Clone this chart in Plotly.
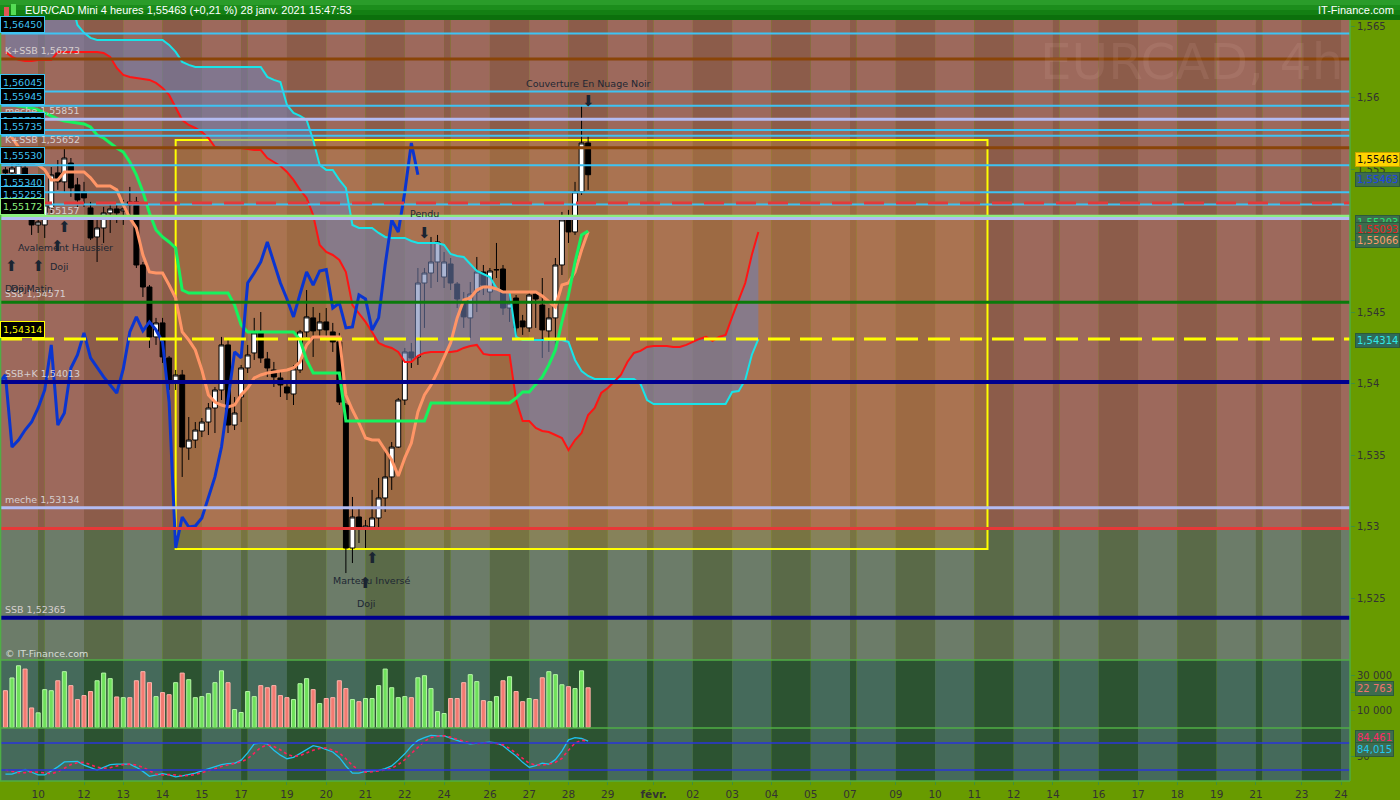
import plotly.graph_objects as go

# EUR/CAD Mini, 4h candles. Bar 0 = first visible candle (8 janv. 2021).
OPEN = [1.55497, 1.55476, 1.55462, 1.55510, 1.55161, 1.55112, 1.55112, 1.55231, 1.55476, 1.55413,
        1.55545, 1.55392, 1.55343, 1.55231, 1.55028, 1.55091, 1.55196, 1.55224, 1.55210, 1.55273,
        1.55273, 1.54832, 1.54678, 1.54329, 1.54427, 1.54182, 1.54007, 1.54063, 1.53552, 1.53608,
        1.53671, 1.53734, 1.53832, 1.53958, 1.54273, 1.53713, 1.53909, 1.54112, 1.54217, 1.54357,
        1.54175, 1.54098, 1.54042, 1.53979, 1.53930, 1.54098, 1.54364, 1.54462, 1.54378, 1.54434,
        1.54364, 1.54294, 1.53853, 1.52853, 1.53070, 1.52993, 1.53000, 1.53063, 1.53203, 1.53350,
        1.53559, 1.53888, 1.54224, 1.54189, 1.54706, 1.54776, 1.54853, 1.54748, 1.54839, 1.54699,
        1.54573, 1.54462, 1.54643, 1.54783, 1.54643, 1.54797, 1.54804, 1.54531, 1.54601, 1.54441,
        1.54392, 1.54629, 1.54552, 1.54371, 1.54462, 1.54832, 1.55161, 1.55063, 1.55343, 1.55685]
HIGH = [1.55517, 1.55552, 1.55552, 1.55531, 1.55196, 1.55168, 1.55266, 1.55517, 1.55566, 1.55657,
        1.55580, 1.55441, 1.55413, 1.55273, 1.55147, 1.55238, 1.55266, 1.55252, 1.55287, 1.55378,
        1.55308, 1.54853, 1.54692, 1.54462, 1.54462, 1.54196, 1.54098, 1.54098, 1.53769, 1.53734,
        1.53762, 1.53867, 1.53979, 1.54329, 1.54308, 1.53909, 1.54133, 1.54273, 1.54462, 1.54503,
        1.54224, 1.54154, 1.54084, 1.54028, 1.54133, 1.54378, 1.54657, 1.54538, 1.54497, 1.54531,
        1.54427, 1.54357, 1.53867, 1.53210, 1.53140, 1.53049, 1.53259, 1.53343, 1.53538, 1.53594,
        1.53902, 1.54252, 1.54287, 1.54811, 1.54811, 1.55028, 1.55042, 1.54923, 1.54881, 1.54713,
        1.54643, 1.54713, 1.54888, 1.54832, 1.54811, 1.54986, 1.54832, 1.54643, 1.54622, 1.54483,
        1.54643, 1.54643, 1.54741, 1.54531, 1.54881, 1.55203, 1.55217, 1.55413, 1.55951, 1.55741]
LOW = [1.55462, 1.55462, 1.55427, 1.55161, 1.55042, 1.55056, 1.55021, 1.55196, 1.55357, 1.55336,
       1.55308, 1.55238, 1.55238, 1.55007, 1.54853, 1.54986, 1.55056, 1.55126, 1.55112, 1.55168,
       1.54811, 1.54608, 1.54252, 1.54273, 1.54147, 1.53958, 1.53958, 1.53350, 1.53469, 1.53552,
       1.53629, 1.53643, 1.53657, 1.53888, 1.53657, 1.53678, 1.53734, 1.54077, 1.54168, 1.54147,
       1.54049, 1.53979, 1.53909, 1.53888, 1.53853, 1.54077, 1.54329, 1.54189, 1.54329, 1.54308,
       1.54224, 1.53853, 1.52678, 1.52748, 1.52888, 1.52853, 1.52979, 1.52993, 1.53105, 1.53259,
       1.53552, 1.53853, 1.54112, 1.54133, 1.54392, 1.54671, 1.54713, 1.54671, 1.54657, 1.54531,
       1.54392, 1.54322, 1.54503, 1.54622, 1.54566, 1.54741, 1.54483, 1.54434, 1.54343, 1.54343,
       1.54364, 1.54392, 1.54182, 1.54224, 1.54224, 1.54762, 1.54986, 1.55042, 1.55322, 1.55357]
CLOSE = [1.55476, 1.55510, 1.55531, 1.55182, 1.55112, 1.55133, 1.55252, 1.55462, 1.55413, 1.55580,
         1.55371, 1.55287, 1.55301, 1.55021, 1.55091, 1.55196, 1.55224, 1.55196, 1.55224, 1.55252,
         1.54832, 1.54678, 1.54329, 1.54427, 1.54189, 1.54007, 1.54063, 1.53559, 1.53608, 1.53678,
         1.53734, 1.53832, 1.53958, 1.54273, 1.53713, 1.53797, 1.54112, 1.54203, 1.54357, 1.54182,
         1.54112, 1.54049, 1.53993, 1.53937, 1.54105, 1.54364, 1.54469, 1.54371, 1.54434, 1.54378,
         1.54294, 1.53874, 1.52853, 1.53070, 1.53000, 1.53007, 1.53063, 1.53203, 1.53350, 1.53559,
         1.53888, 1.54224, 1.54182, 1.54706, 1.54776, 1.54853, 1.54993, 1.54853, 1.54706, 1.54594,
         1.54469, 1.54629, 1.54783, 1.54692, 1.54790, 1.54800, 1.54531, 1.54566, 1.54392, 1.54399,
         1.54622, 1.54594, 1.54378, 1.54462, 1.54832, 1.55147, 1.55063, 1.55343, 1.55685, 1.55463]
VOLUME = [21100, 28400, 35400, 33500, 11200, 8400, 21700, 21100, 26800, 32000,
          24000, 16000, 18300, 20600, 26800, 31200, 28000, 17500, 17100, 17100,
          26800, 32000, 25700, 17700, 20000, 18800, 25700, 31200, 27400, 17100,
          17700, 19400, 25700, 32500, 25700, 10300, 8600, 20600, 17700, 24000,
          22800, 24000, 18300, 17100, 16000, 25100, 28000, 21700, 13700, 16600,
          17100, 26800, 22300, 16000, 14800, 16600, 16600, 24000, 33500, 22800,
          17100, 17700, 17100, 28500, 29700, 22300, 9100, 8000, 16600, 16600,
          25700, 30300, 26300, 15400, 14800, 17700, 26800, 29100, 20600, 14800,
          16600, 16000, 28500, 32000, 30300, 24500, 23400, 22300, 32500, 22763]

TENKAN = [1.55790, 1.55720, 1.55657, 1.55601, 1.55566, 1.55531, 1.55497, 1.55427, 1.55427, 1.55483,
          1.55483, 1.55483, 1.55483, 1.55441, 1.55385, 1.55385, 1.55385, 1.55357, 1.55252, 1.55161,
          1.55091, 1.54902, 1.54783, 1.54776, 1.54776, 1.54692, 1.54601, 1.54364, 1.54308, 1.54238,
          1.54098, 1.53923, 1.53874, 1.53853, 1.53839, 1.53853, 1.53923, 1.53972, 1.54042, 1.54063,
          1.54077, 1.54084, 1.54091, 1.54098, 1.54112, 1.54154, 1.54273, 1.54329, 1.54329, 1.54329,
          1.54329, 1.54329, 1.53923, 1.53818, 1.53727, 1.53622, 1.53608, 1.53608, 1.53538, 1.53469,
          1.53357, 1.53483, 1.53587, 1.53804, 1.53923, 1.53993, 1.54084, 1.54182, 1.54287, 1.54462,
          1.54587, 1.54601, 1.54657, 1.54678, 1.54678, 1.54664, 1.54643, 1.54643, 1.54643, 1.54643,
          1.54643, 1.54643, 1.54615, 1.54573, 1.54538, 1.54692, 1.54706, 1.54783, 1.54937, 1.55066]
KIJUN = [1.55958, 1.55951, 1.55944, 1.55937, 1.55930, 1.55916, 1.55895, 1.55874, 1.55853, 1.55839,
         1.55832, 1.55825, 1.55818, 1.55797, 1.55741, 1.55720, 1.55685, 1.55650, 1.55622, 1.55552,
         1.55462, 1.55343, 1.55196, 1.55077, 1.55028, 1.54993, 1.54951, 1.54657, 1.54636, 1.54636,
         1.54636, 1.54636, 1.54636, 1.54636, 1.54636, 1.54552, 1.54413, 1.54364, 1.54364, 1.54364,
         1.54364, 1.54364, 1.54364, 1.54364, 1.54364, 1.54308, 1.54168, 1.54077, 1.54077, 1.54077,
         1.54077, 1.54077, 1.53741, 1.53741, 1.53741, 1.53741, 1.53741, 1.53741, 1.53741, 1.53741,
         1.53741, 1.53741, 1.53741, 1.53741, 1.53741, 1.53867, 1.53867, 1.53867, 1.53867, 1.53867,
         1.53867, 1.53867, 1.53867, 1.53867, 1.53867, 1.53867, 1.53867, 1.53867, 1.53902, 1.53944,
         1.53944, 1.53993, 1.54049, 1.54133, 1.54238, 1.54434, 1.54622, 1.54853, 1.55042, 1.55070]
# senkou spans, already drawn 26 bars ahead (bar index 0..115)
SENKOU_A = [1.56322, 1.56287, 1.56266, 1.56259, 1.56259, 1.56266, 1.56266, 1.56266, 1.56322, 1.56322,
            1.56322, 1.56322, 1.56322, 1.56322, 1.56322, 1.56315, 1.56287, 1.56210, 1.56161, 1.56147,
            1.56140, 1.56133, 1.56126, 1.56105, 1.56070, 1.56021, 1.55930, 1.55846, 1.55811, 1.55790,
            1.55762, 1.55720, 1.55657, 1.55650, 1.55650, 1.55650, 1.55650, 1.55643, 1.55636, 1.55636,
            1.55580, 1.55552, 1.55524, 1.55483, 1.55427, 1.55357, 1.55301, 1.55182, 1.54972, 1.54923,
            1.54902, 1.54867, 1.54783, 1.54552, 1.54497, 1.54434, 1.54364, 1.54287, 1.54266, 1.54252,
            1.54224, 1.54154, 1.54154, 1.54196, 1.54217, 1.54224, 1.54224, 1.54224, 1.54224, 1.54231,
            1.54252, 1.54266, 1.54273, 1.54210, 1.54203, 1.54203, 1.54203, 1.54203, 1.53888, 1.53741,
            1.53741, 1.53692, 1.53671, 1.53664, 1.53643, 1.53622, 1.53538, 1.53608, 1.53657, 1.53783,
            1.53832, 1.53937, 1.53972, 1.54014, 1.54063, 1.54154, 1.54217, 1.54231, 1.54259, 1.54266,
            1.54266, 1.54266, 1.54259, 1.54259, 1.54273, 1.54294, 1.54315, 1.54329, 1.54301, 1.54329,
            1.54343, 1.54469, 1.54587, 1.54706, 1.54902, 1.55063]
SENKOU_B = [1.56700, 1.56700, 1.56700, 1.56700, 1.56700, 1.56700, 1.56700, 1.56700, 1.56700, 1.56700,
            1.56700, 1.56510, 1.56455, 1.56420, 1.56406, 1.56406, 1.56406, 1.56406, 1.56406, 1.56406,
            1.56406, 1.56406, 1.56406, 1.56406, 1.56406, 1.56371, 1.56322, 1.56252, 1.56231, 1.56217,
            1.56217, 1.56217, 1.56217, 1.56217, 1.56217, 1.56217, 1.56217, 1.56217, 1.56217, 1.56217,
            1.56147, 1.56126, 1.56112, 1.55951, 1.55895, 1.55874, 1.55846, 1.55706, 1.55531, 1.55497,
            1.55497, 1.55427, 1.55371, 1.55112, 1.55091, 1.55091, 1.55091, 1.55056, 1.55028, 1.55021,
            1.55021, 1.55021, 1.55000, 1.54986, 1.54986, 1.54986, 1.54986, 1.54972, 1.54909, 1.54895,
            1.54888, 1.54839, 1.54790, 1.54769, 1.54748, 1.54671, 1.54643, 1.54643, 1.54329, 1.54308,
            1.54308, 1.54308, 1.54308, 1.54308, 1.54308, 1.54308, 1.54294, 1.54168, 1.54091, 1.54056,
            1.54035, 1.54035, 1.54035, 1.54035, 1.54035, 1.54035, 1.54035, 1.54000, 1.53888, 1.53860,
            1.53860, 1.53860, 1.53860, 1.53860, 1.53860, 1.53860, 1.53860, 1.53860, 1.53860, 1.53860,
            1.53860, 1.53944, 1.53951, 1.54028, 1.54203, 1.54314]
CHIKOU_SHIFT = 26

STOCH_K = [11, 11, 16, 21, 15, 9, 9, 18, 27, 38, 39, 39, 31, 25, 20, 26, 32, 33, 33, 33,
           26, 17, 6, 9, 12, 9, 5, 7, 10, 13, 18, 23, 28, 32, 34, 35, 42, 58, 78, 80,
           78, 64, 53, 45, 48, 57, 66, 74, 71, 66, 60, 48, 29, 13, 13, 17, 18, 19, 23, 29,
           42, 56, 73, 86, 92, 97, 96, 96, 91, 86, 81, 78, 79, 80, 82, 80, 74, 62, 51, 37,
           26, 30, 35, 33, 43, 62, 87, 92, 90, 84.015]
STOCH_D = [20, 17, 14, 14, 16, 15, 13, 12, 16, 24, 32, 36, 37, 32, 26, 24, 25, 29, 32, 33,
           31, 26, 18, 11, 9, 10, 9, 7, 8, 10, 14, 18, 23, 28, 31, 34, 38, 45, 58, 70,
           76, 72, 65, 55, 50, 52, 58, 64, 68, 69, 64, 58, 45, 30, 20, 15, 16, 18, 20, 24,
           32, 43, 57, 72, 84, 92, 95, 96, 93, 88, 84, 80, 79, 80, 80, 79, 76, 68, 58, 46,
           35, 31, 31, 33, 37, 46, 64, 80, 86, 84.461]

# first bar of each trading day (8 janv. ... 24 févr.)
DAY_START = [-1, 5, 6, 12, 18, 24, 30, 36, 37, 43, 49, 55, 61, 67, 68, 74, 80, 86, 92, 98, 99,
             105, 111, 117, 123, 129, 130, 136, 142, 148, 154, 160, 161, 167, 173, 179, 185,
             191, 192, 198, 204]
TICK_BARS = [5, 12, 18, 24, 30, 36, 43, 49, 55, 61, 67, 74, 80, 86, 92, 99, 105, 111, 117, 123,
             129, 136, 142, 148, 154, 160, 167, 173, 179, 185, 191, 198, 204]
TICK_TEXT = ["10", "12", "13", "14", "15", "17", "19", "20", "21", "22", "24", "26", "27", "28",
             "29", "<b>févr.</b>", "02", "03", "04", "05", "07", "09", "10", "11", "12", "14",
             "16", "17", "18", "19", "21", "23", "24"]

# horizontal levels drawn on the price panel
LEVEL_PRICE = [1.56450, 1.56273, 1.56045, 1.55945, 1.55851, 1.55775, 1.55735, 1.55652, 1.55530,
               1.55340, 1.55255, 1.55265, 1.55172, 1.55157, 1.54571, 1.54314, 1.54013, 1.53134,
               1.52990, 1.52365]
LEVEL_KIND = ["pivot", "kssb", "pivot", "pivot", "meche", "pivot", "pivot", "kssb", "pivot",
              "pivot", "pivot", "reddash", "greenbox", "meche", "ssbgreen", "yellowbox", "ssbk",
              "meche", "redline", "ssb"]

# rectangle zone (bars and prices)
ZONE_BARS = [26, 150]
ZONE_PRICES = [1.52846, 1.55706]

# candle pattern labels
PATTERN_TEXT = ["Couverture En Nuage Noir", "Pendu", "Avalement Haussier", "Doji",
                "Marteau Inversé", "Doji"]
PATTERN_BAR = [89, 64, 9.1, 8.2, 56, 55]
PATTERN_PRICE = [1.56098, 1.55189, 1.54951, 1.54818, 1.52629, 1.52462]
ARROW_BAR = [89, 64, 9, 8, 1, 5, 56, 55]
ARROW_PRICE = [1.55979, 1.55056, 1.55098, 1.54965, 1.54825, 1.54825, 1.52783, 1.52608]
ARROW_UP = [False, False, True, True, True, True, True, True]

# ---------------------------------------------------------------------------
FONT = "DejaVu Sans"
XMIN, XMAX = -0.83, 205.37
YMIN, YMAX = 1.52070, 1.56545
ZONE_SPLIT = 1.5299
XD = 1350 / 1400


def py(pix):
    return 1 - pix / 800


PRICE_DOM = [py(660), py(20)]
VOL_DOM = [py(728), py(660)]
OSC_DOM = [py(781), py(728)]

STYLE = {
    "pivot": ("#3ec3f3", 2, "solid", None),
    "kssb": ("#8a4508", 3, "solid", "K+SSB"),
    "meche": ("#b3bbf2", 3, "solid", "meche"),
    "reddash": ("#e33a3a", 3, "20px,12px", None),
    "greenbox": ("#8ced7e", 3, "solid", None),
    "ssbgreen": ("#0b7a0b", 3, "solid", "SSB"),
    "yellowbox": ("#ffff00", 3, "22px,10px", None),
    "ssbk": ("#00008f", 4, "solid", "SSB+K"),
    "redline": ("#e83838", 3, "solid", None),
    "ssb": ("#00008f", 4, "solid", "SSB"),
}
BOXED = {"pivot": "#3ec3f3", "greenbox": "#8cf07e", "yellowbox": "#ffff00"}


def fr(p):
    return f"{p:.5f}".replace(".", ",")


fig = go.Figure()

# Ichimoku cloud (under the candles)
xc = list(range(len(SENKOU_A)))
fig.add_trace(go.Scatter(x=xc, y=SENKOU_B, mode="lines", line=dict(color="#18e4e8", width=2),
                         hoverinfo="skip"))
fig.add_trace(go.Scatter(x=xc, y=SENKOU_A, mode="lines", line=dict(color="#ff1414", width=2),
                         fill="tonexty", fillcolor="rgba(110,128,178,0.58)", hoverinfo="skip"))

xb = list(range(len(CLOSE)))
fig.add_trace(go.Candlestick(
    x=xb, open=OPEN, high=HIGH, low=LOW, close=CLOSE, whiskerwidth=0,
    increasing=dict(line=dict(color="black", width=1), fillcolor="white"),
    decreasing=dict(line=dict(color="black", width=1), fillcolor="black"),
    hoverinfo="skip"))

fig.add_trace(go.Scatter(x=xb, y=TENKAN, mode="lines", line=dict(color="#ff9566", width=3),
                         hoverinfo="skip"))
fig.add_trace(go.Scatter(x=xb, y=KIJUN, mode="lines", line=dict(color="#16f25e", width=3),
                         hoverinfo="skip"))
chx = [i - CHIKOU_SHIFT for i in range(CHIKOU_SHIFT - 1, len(CLOSE))]
fig.add_trace(go.Scatter(x=chx, y=CLOSE[CHIKOU_SHIFT - 1:], mode="lines",
                         line=dict(color="#0a35d0", width=3), hoverinfo="skip"))

# volume
up = [c >= o for o, c in zip(OPEN, CLOSE)]
fig.add_trace(go.Bar(x=xb, y=VOLUME, yaxis="y2", width=0.62,
                     marker=dict(color=["#6fe05c" if u else "#f27b72" for u in up],
                                 line=dict(color=["#b6f7a6" if u else "#ffb4ac" for u in up],
                                           width=1)),
                     hoverinfo="skip"))

# stochastic
fig.add_trace(go.Scatter(x=xb, y=STOCH_K, yaxis="y3", mode="lines",
                         line=dict(color="#1fc3f0", width=1.3), hoverinfo="skip"))
fig.add_trace(go.Scatter(x=xb, y=STOCH_D, yaxis="y3", mode="lines",
                         line=dict(color="#ff1f5c", width=1.6, dash="dot"), hoverinfo="skip"))

shapes = []
# day bands
PRICE_HI = ("#9d695c", "#8c5c4a")
PRICE_LO = ("#6c7c69", "#5a6a48")
LOWER = ("#456a5b", "#2c5331")
edges = DAY_START + [XMAX]
for i in range(len(DAY_START)):
    a, b = max(edges[i], XMIN), min(edges[i + 1], XMAX)
    j = i % 2
    band = dict(type="rect", xref="x", x0=a, x1=b, line=dict(width=0), layer="below")
    shapes.append(dict(band, yref="y", y0=ZONE_SPLIT, y1=YMAX, fillcolor=PRICE_HI[j]))
    shapes.append(dict(band, yref="y", y0=YMIN, y1=ZONE_SPLIT, fillcolor=PRICE_LO[j]))
    shapes.append(dict(band, yref="paper", y0=OSC_DOM[0], y1=VOL_DOM[1], fillcolor=LOWER[j]))

# highlighted zone
shapes.append(dict(type="rect", xref="x", yref="y", x0=ZONE_BARS[0], x1=ZONE_BARS[1],
                   y0=ZONE_PRICES[0], y1=ZONE_PRICES[1], layer="below",
                   fillcolor="rgba(210,145,50,0.26)", line=dict(color="#ffff00", width=2)))

# stochastic levels
for lv in (80, 20):
    shapes.append(dict(type="line", xref="paper", yref="y3", x0=0, x1=XD, y0=lv, y1=lv,
                       line=dict(color="#2a34d8", width=1.5)))

# price levels
for p, k in zip(LEVEL_PRICE, LEVEL_KIND):
    col, w, dash, _ = STYLE[k]
    shapes.append(dict(type="line", xref="paper", yref="y", x0=0, x1=XD, y0=p, y1=p,
                       line=dict(color=col, width=w, dash=dash), layer="above"))

# panel borders
for yy in (VOL_DOM[1], OSC_DOM[1], OSC_DOM[0]):
    shapes.append(dict(type="line", xref="paper", yref="paper", x0=0, x1=XD, y0=yy, y1=yy,
                       line=dict(color="#4fae45", width=1.5)))
for xx in (0.0004, XD):
    shapes.append(dict(type="line", xref="paper", yref="paper", x0=xx, x1=xx,
                       y0=OSC_DOM[0], y1=PRICE_DOM[1], line=dict(color="#4fae45", width=1.5)))

# title bar
bar_cols = ["#2a9c2a", "#1c8d1c", "#137f13", "#0c700c"]
for i, c in enumerate(bar_cols):
    shapes.append(dict(type="rect", xref="paper", yref="paper", x0=0, x1=1,
                       y0=py(5 * i + 5), y1=py(5 * i), fillcolor=c, line=dict(width=0),
                       layer="above"))
shapes.append(dict(type="rect", xref="paper", yref="paper", x0=4 / 1400, x1=9 / 1400,
                   y0=py(17), y1=py(7), fillcolor="#e25555", line=dict(width=0), layer="above"))
shapes.append(dict(type="rect", xref="paper", yref="paper", x0=11 / 1400, x1=16 / 1400,
                   y0=py(15), y1=py(4), fillcolor="#55dd55", line=dict(width=0), layer="above"))

ann = []
ann.append(dict(x=23 / 1400, y=py(10), xref="paper", yref="paper", xanchor="left",
                yanchor="middle", showarrow=False,
                text="EUR/CAD Mini 4 heures 1,55463 (+0,21 %) 28 janv. 2021 15:47:53",
                font=dict(family="Liberation Sans", size=11, color="white")))
ann.append(dict(x=1396 / 1400, y=py(10), xref="paper", yref="paper", xanchor="right",
                yanchor="middle", showarrow=False, text="IT-Finance.com",
                font=dict(family="Liberation Sans", size=11, color="white")))
ann.append(dict(x=1345 / 1400, y=py(62), xref="paper", yref="paper", xanchor="right",
                yanchor="middle", showarrow=False, text="EURCAD, 4h",
                font=dict(family=FONT, size=50, color="rgba(255,215,195,0.09)")))
ann.append(dict(x=3 / 1400, y=py(653), xref="paper", yref="paper", xanchor="left",
                yanchor="middle", showarrow=False, text="© IT-Finance.com",
                font=dict(family=FONT, size=9.5, color="#d5ddd5")))

# level labels: plain text first, boxes on top
for p, k in zip(LEVEL_PRICE, LEVEL_KIND):
    prefix = STYLE[k][3]
    if prefix:
        ann.append(dict(x=0, y=p, xref="paper", yref="y", xanchor="left", yanchor="bottom",
                        xshift=3, yshift=1, showarrow=False, text=f"{prefix} {fr(p)}",
                        font=dict(family=FONT, size=9.5, color="#d6cfcf")))
for p, k in zip(LEVEL_PRICE, LEVEL_KIND):
    if k in BOXED:
        ann.append(dict(x=0, y=p, xref="paper", yref="y", xanchor="left", yanchor="bottom",
                        xshift=0, yshift=1, showarrow=False, text=fr(p), bgcolor="black",
                        bordercolor=BOXED[k], borderwidth=1, borderpad=2,
                        font=dict(family=FONT, size=9.5, color=BOXED[k])))

# candle patterns
for t, b, p in zip(PATTERN_TEXT, PATTERN_BAR, PATTERN_PRICE):
    ann.append(dict(x=b, y=p, xref="x", yref="y", showarrow=False, text=t,
                    font=dict(family=FONT, size=9.5, color="#1d2733")))
ann.append(dict(x=-0.4, y=1.54671, xref="x", yref="y", xanchor="left", showarrow=False,
                text="Doji Matin", font=dict(family=FONT, size=9.5, color="#1d2733")))
ann.append(dict(x=0.6, y=1.54671, xref="x", yref="y", xanchor="left", showarrow=False,
                text="Doji", font=dict(family=FONT, size=9.5, color="#1d2733")))
for b, p, u in zip(ARROW_BAR, ARROW_PRICE, ARROW_UP):
    ann.append(dict(x=b, y=p, xref="x", yref="y", showarrow=False, text="⬆" if u else "⬇",
                    font=dict(family=FONT, size=15, color="#1a2431")))

# right-side value tags
TAGS = [("1,55463", 160, "#ffd400", "#111111", "#c9a400"),
        ("1,55463", 180, "#3d6c4e", "#1e44e6", "#2b5a3c"),
        ("1,55203", 222, "#3d6c4e", "#2de070", "#2b5a3c"),
        ("1,55093", 230, "#3d6c4e", "#e82222", "#2b5a3c"),
        ("1,55066", 240, "#3d6c4e", "#ff9a6a", "#2b5a3c"),
        ("1,54314", 340, "#2f6a5a", "#2fe8e8", "#2b5a3c"),
        ("22 763", 688, "#3d6c4e", "#f2746c", "#2b5a3c"),
        ("84,461", 737, "#3d6c4e", "#ff2a66", "#2b5a3c"),
        ("84,015", 749, "#3d6c4e", "#22c8f2", "#2b5a3c")]
for t, ypix, bg, fg, bc in TAGS:
    ann.append(dict(x=1355 / 1400, y=py(ypix), xref="paper", yref="paper", xanchor="left",
                    yanchor="middle", showarrow=False, text=t, bgcolor=bg, bordercolor=bc,
                    borderwidth=1, borderpad=1, font=dict(family=FONT, size=10, color=fg)))

axis_font = dict(family=FONT, size=10, color="#333333")
yax = dict(anchor="x", side="right", showgrid=False, zeroline=False, showline=False,
           ticks="outside", ticklen=4, tickcolor="#3f8f3f", tickfont=axis_font, fixedrange=True)

fig.update_layout(
    width=1400, height=800, margin=dict(l=0, r=0, t=0, b=0),
    paper_bgcolor="#689b00", plot_bgcolor="rgba(0,0,0,0)",
    showlegend=False, hovermode=False, separators=", ", bargap=0.3,
    boxgap=0.25, boxgroupgap=0,
    xaxis=dict(domain=[0, XD], range=[XMIN, XMAX], anchor="y3", tickvals=TICK_BARS,
               ticktext=TICK_TEXT, ticks="outside", ticklen=3, tickcolor="#3f8f3f",
               tickfont=dict(family=FONT, size=10.5, color="#333333"), showgrid=False,
               zeroline=False, showline=False, rangeslider=dict(visible=False),
               fixedrange=True),
    yaxis=dict(yax, domain=PRICE_DOM, range=[YMIN, YMAX],
               tickvals=[1.525, 1.53, 1.535, 1.54, 1.545, 1.55, 1.555, 1.56, 1.565]),
    yaxis2=dict(yax, domain=VOL_DOM, range=[-300, 38700], tickvals=[10000, 20000, 30000],
                tickformat=",d"),
    yaxis3=dict(yax, domain=OSC_DOM, range=[-4.4, 113.3], tickvals=[50]),
    shapes=shapes, annotations=ann,
)

# the page body has a default margin; remove it so the 1400x800 figure fills the window
fig.write_html("out.html", config={"displayModeBar": False},
               post_script="document.body.style.margin='0';"
                           "document.body.style.overflow='hidden';")
